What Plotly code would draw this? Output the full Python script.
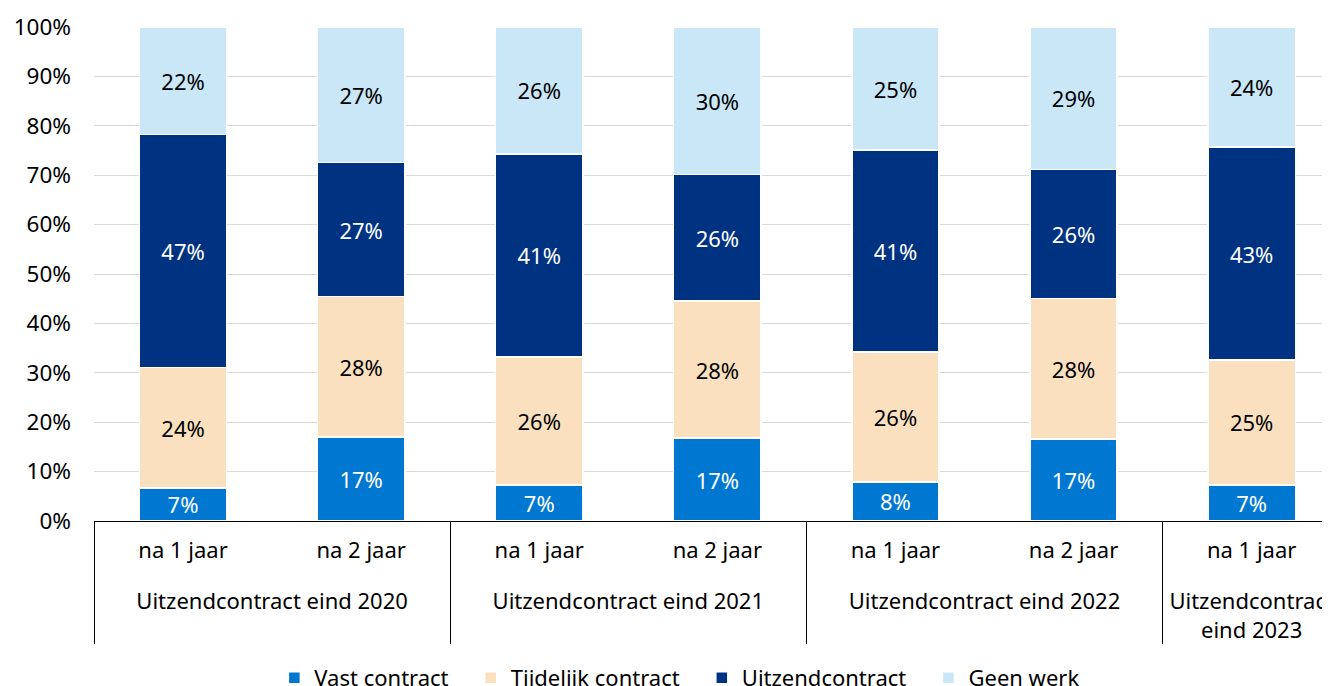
import plotly.graph_objects as go

NB = "\u00a0"
groups = ["Uitzendcontract eind 2020", "Uitzendcontract eind 2020",
          "Uitzendcontract eind 2021", "Uitzendcontract eind 2021",
          "Uitzendcontract eind 2022", "Uitzendcontract eind 2022",
          "Uitzendcontract<br>eind 2023"]
periods = ["na 1 jaar", "na 2 jaar", "na 1 jaar", "na 2 jaar",
           "na 1 jaar", "na 2 jaar", "na 1 jaar"]

vast = [6.7, 17.0, 7.3, 16.8, 7.9, 16.6, 7.3]
tijdelijk = [24.4, 28.4, 25.9, 27.7, 26.3, 28.4, 25.3]
uitzend = [47.1, 27.2, 41.1, 25.6, 40.9, 26.2, 43.1]
geen = [21.8, 27.4, 25.7, 29.9, 24.9, 28.8, 24.3]

series = [
    ("Vast contract", vast, "#0078D2", "white"),
    ("Tijdelijk contract", tijdelijk, "#FBE0C0", "black"),
    ("Uitzendcontract", uitzend, "#003282", "white"),
    ("Geen werk", geen, "#C9E7F7", "black"),
]

FONT = "Noto Sans"
# an extra blank line under the period labels adds space above the group labels
period_labels = [p + "<br>" + NB for p in periods]

fig = go.Figure()
for i, (name, vals, col, tcol) in enumerate(series):
    fig.add_trace(go.Bar(
        x=[groups, period_labels], y=vals,
        name=name + (NB * 3 if i < len(series) - 1 else ""),
        marker=dict(color=col, line=dict(color="white", width=1.5)),
        text=[f"{round(v)}%" for v in vals],
        textposition="inside", insidetextanchor="middle",
        textfont=dict(color=tcol, size=22, family=FONT),
        textangle=0,
    ))

# page body has an 8px default margin, so the figure is 8px smaller
fig.update_layout(
    barmode="stack", bargap=0.51,
    width=1322, height=678,
    margin=dict(l=86, r=0, t=19, b=165, autoexpand=False),
    plot_bgcolor="white", paper_bgcolor="white",
    font=dict(family=FONT, size=22, color="black"),
    uniformtext=dict(minsize=20, mode="show"),
    legend=dict(orientation="h", x=0.474, xanchor="center",
                yref="container", y=0.012, yanchor="middle",
                font=dict(size=22, family=FONT),
                traceorder="normal"),
    showlegend=True,
)
fig.update_xaxes(
    range=[-0.5, 6.44], showline=True, linecolor="black", linewidth=1,
    ticks="",
    showdividers=True, dividercolor="black", dividerwidth=1,
    tickfont=dict(size=22, family=FONT), automargin=False,
    ticklabelstandoff=10,
)
fig.update_yaxes(
    range=[0, 100], dtick=10, ticksuffix="%", showgrid=True, gridcolor="#D9D9D9",
    gridwidth=1, zeroline=False, showline=False, tickfont=dict(size=22.5, family=FONT),
    automargin=False, ticklabelstandoff=22,
)
fig.write_html("out.html")
